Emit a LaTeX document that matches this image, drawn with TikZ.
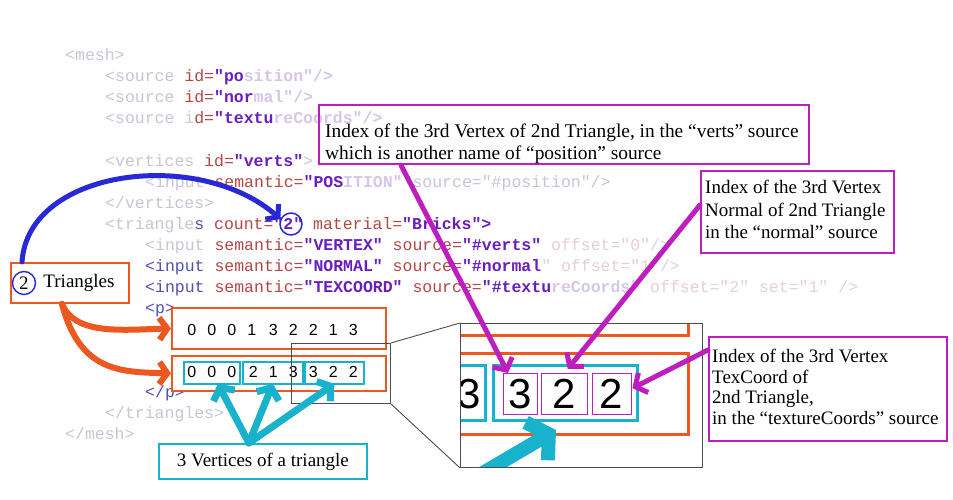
\documentclass[tikz,border=0pt]{standalone}
\usepackage{fontspec}
\setmainfont{Liberation Serif}
\newfontfamily\codefont{Liberation Mono}
\newfontfamily\digfont{Liberation Sans}
\usetikzlibrary{arrows.meta}
\definecolor{orng}{RGB}{236,88,32}
\definecolor{cyn}{RGB}{25,178,205}
\definecolor{mgt}{RGB}{190,30,190}
\definecolor{blu}{RGB}{40,40,215}
\definecolor{cfade}{RGB}{198,198,214}
\definecolor{cfadev}{RGB}{214,198,232}
\definecolor{cfader}{RGB}{232,206,214}
\definecolor{ctag}{RGB}{80,80,178}
\definecolor{cattr}{RGB}{182,70,70}
\definecolor{cval}{RGB}{105,30,190}
\newcommand\kfade[1]{\textcolor{cfade}{#1}}
\newcommand\kfadev[1]{\textcolor{cfadev}{\bfseries #1}}
\newcommand\kfader[1]{\textcolor{cfader}{#1}}
\newcommand\ktag[1]{\textcolor{ctag}{#1}}
\newcommand\kattr[1]{\textcolor{cattr}{#1}}
\newcommand\kval[1]{\textcolor{cval}{\bfseries #1}}
\begin{document}
\begin{tikzpicture}[x=1pt,y=-1pt,
  code/.style={font=\codefont\fontsize{16.5}{20}\selectfont, inner sep=0pt, anchor=base west},
  callout/.style={draw=mgt, line width=2.2pt, anchor=north west, inner sep=0pt},
  callouttext/.style={anchor=north west, inner sep=0pt, align=left},
  digit/.style={font=\digfont\fontsize{16}{18}\selectfont, inner sep=0pt},
  bigdigit/.style={font=\digfont\fontsize{42}{44}\selectfont, inner sep=0pt},
  obox/.style={draw=orng, line width=1.8pt, anchor=north west, inner sep=0pt},
  cbox/.style={draw=cyn, line width=1.8pt, anchor=north west, inner sep=0pt},
  mbox/.style={draw=mgt, line width=1.4pt, anchor=north west, inner sep=0pt},
  graybox/.style={draw=black!70, line width=0.9pt, anchor=north west, inner sep=0pt},
  marrow/.style={draw=mgt, line width=5pt, line cap=round, -{Straight Barb[length=9pt,width=22pt]}},
  carrow/.style={draw=cyn, line width=7pt, line cap=round, -{Straight Barb[length=9pt,width=24pt]}},
  oarrow/.style={draw=orng, line width=6pt, line cap=round, -{Straight Barb[length=8pt,width=22pt]}},
  barrow/.style={draw=blu, line width=5pt, line cap=round, -{Straight Barb[length=8pt,width=20pt]}},
  serif19/.style={font=\fontsize{19}{23}\selectfont}
]
\fill[white] (0,0) rectangle (953,500);
\useasboundingbox (0,0) rectangle (953,500);

% ---------- code ----------
\node[code] (L1) at (65,61) {\kfade{<mesh>}};
\node[code] (L2) at (105,82) {\kfade{<source }\kattr{id=}\kval{"po}\kfadev{sition"/>}};
\node[code] (L3) at (105,103) {\kfade{<source }\kattr{id=}\kval{"nor}\kfadev{mal"/>}};
\node[code] (L4) at (105,124) {\kfade{<source i}\kattr{d=}\kval{"textu}\kfadev{reCoords"/>}};
\node[code] (L5) at (105,166) {\kfade{<vertices }\kattr{id=}\kval{"verts"}\kfade{>}};
\node[code] (L6) at (145,187) {\kfade{<input }\kattr{semantic=}\kval{"POS}\kfadev{ITION"} \kfade{source="\#position"/>}};
\node[code] (L7) at (105,208) {\kfade{</vertices>}};
\node[code] (L8) at (105,229) {\kfade{<triangle}\ktag{s} \kattr{count=}\kval{"2"} \kattr{material=}\kval{"Bricks">}};
\node[code] (L9) at (145,250) {\kfade{<input} \kattr{semantic=}\kval{"VERTEX"} \kattr{source=}\kval{"\#verts"} \kfader{offset="0"/>}};
\node[code] (L10) at (145,271) {\ktag{<input} \kattr{semantic=}\kval{"NORMAL"} \kattr{source=}\kval{"\#normal}\kfader{" offset="1"/>}};
\node[code] (L11) at (145,292) {\ktag{<input} \kattr{semantic=}\kval{"TEXCOORD"} \kattr{source=}\kval{"\#textu}\kfadev{reCoords"} \kfader{offset="2" set="1" />}};
\node[code] (L12) at (145,313) {\ktag{<p>}};
\node[code] (L13) at (145,397) {\ktag{</p>}};
\node[code] (L14) at (105,418) {\kfade{</triangles>}};
\node[code] (L15) at (65,439) {\kfade{</mesh>}};

\node[draw=blu, circle, line width=1.5pt, minimum size=22pt, inner sep=0pt] (c2) at (291,224) {};

% ---------- rows ----------
\node[obox, fill=white, minimum width=214pt, minimum height=41pt] (row1) at (171,307) {};
\node[obox, fill=white, minimum width=214pt, minimum height=35pt] (row2) at (171,355) {};
\node[cbox, minimum width=56pt, minimum height=22pt] (t1) at (183,361) {};
\node[cbox, minimum width=60pt, minimum height=22pt] (t2) at (242,361) {};
\node[cbox, minimum width=59pt, minimum height=22pt] (t3) at (304,361) {};
\foreach \x/\d [count=\i] in {191.7/0,211.7/0,231.7/0,251.7/1,273.3/3,293.3/2,313.3/2,333.3/1,353.3/3}
  \node[digit] (ra\i) at (\x,330) {\d};
\foreach \x/\d [count=\i] in {191.7/0,211.7/0,231.7/0,253.3/2,273.3/1,293.3/3,313.3/3,333.3/2,353.3/2}
  \node[digit] (rb\i) at (\x,372) {\d};

\node[graybox, minimum width=99pt, minimum height=60pt] (zsrc) at (291,343) {};

% ---------- inset ----------
\begin{scope}
\clip (460,323) rectangle (702,467);
\draw[orng, line width=3pt] (460,335) -- (688,335) -- (688,320);
\draw[orng, line width=3pt] (455,353) -- (688,353) -- (688,434) -- (455,434);
\draw[cyn, line width=3pt] (455,365) -- (485,365) -- (485,420) -- (455,420);
\draw[cyn, line width=3pt] (493,365) rectangle (637,420);
\node[mbox, minimum width=34pt, minimum height=41pt] (mag1) at (503,373) {};
\node[mbox, minimum width=46pt, minimum height=41pt] (mag2) at (541,373) {};
\node[mbox, minimum width=39pt, minimum height=41pt] (mag3) at (592,373) {};
\node[bigdigit] (bd0) at (469,394) {3};
\node[bigdigit] (bd1) at (520,394) {3};
\node[bigdigit] (bd2) at (564,394) {2};
\node[bigdigit] (bd3) at (611,394) {2};
\coordinate (zorig) at (420,510);
\draw[draw=cyn, line width=14pt, line cap=round, -{Straight Barb[length=14pt,width=44pt]}] (zorig) -- (556,430);
\end{scope}
\node[graybox, minimum width=242pt, minimum height=144pt] (inset) at (460,323) {};
\draw[black!70, line width=0.9pt] (zsrc.north east) -- (inset.north west);
\draw[black!70, line width=0.9pt] (zsrc.south east) -- (inset.south west);

% ---------- left labels ----------
\node[obox, minimum width=118pt, minimum height=40pt] (tri) at (10,262) {};
\node[draw=blu, circle, line width=1.4pt, minimum size=23pt, inner sep=0pt, serif19] (c1) at (24,283) {2};
\node[serif19, inner sep=0pt] (tritxt) at (79,283) {Triangles};

\node[cbox, minimum width=208pt, minimum height=35pt, serif19] (vbox) at (158,443) {3 Vertices of a triangle};

% ---------- callouts ----------
\node[callout, minimum width=490pt, minimum height=59pt] (boxA) at (318,104) {};
\node[callouttext, font=\fontsize{19.4}{22}\selectfont] (boxAt) at (325,124)
  {Index of the 3rd Vertex of 2nd Triangle, in the “verts” source\\which is another name of “position” source};
\node[callout, minimum width=193pt, minimum height=82pt] (boxB) at (700,170) {};
\node[callouttext, font=\fontsize{19}{22.5}\selectfont] (boxBt) at (705,180)
  {Index of the 3rd Vertex\\Normal of 2nd Triangle\\in the “normal” source};
\node[callout, minimum width=238pt, minimum height=104pt] (boxC) at (708,336) {};
\node[callouttext, font=\fontsize{19}{20.6}\selectfont] (boxCt) at (712,349)
  {Index of the 3rd Vertex\\TexCoord of\\2nd Triangle,\\in the “textureCoords” source};

% ---------- connectors ----------
\draw[barrow] ([xshift=12pt]tri.north west) .. controls (28,168) and (200,148) .. (c2.155);
\draw[oarrow] ([xshift=-8pt]tri.south) .. controls (75,335) and (120,330) .. (row1.west);
\draw[oarrow] ([xshift=-8pt]tri.south) .. controls (80,372) and (120,372) .. (row2.west);

\draw[carrow] ([xshift=-14pt]vbox.north) -- ([xshift=6pt,yshift=1pt]t1.south);
\draw[carrow] ([xshift=-14pt]vbox.north) -- ([yshift=1pt]t2.south);
\draw[carrow] ([xshift=-14pt]vbox.north) -- ([yshift=1pt]t3.south);

\draw[marrow] ([xshift=83pt]boxA.south west) -- ([xshift=5pt]mag1.north west);
\draw[marrow] ([yshift=-35pt]boxB.north west) -- ([xshift=3pt,yshift=4pt]mag2.north);
\draw[marrow] ([yshift=-14pt]boxC.north west) -- ([yshift=6pt]mag3.east);
\end{tikzpicture}
\end{document}
